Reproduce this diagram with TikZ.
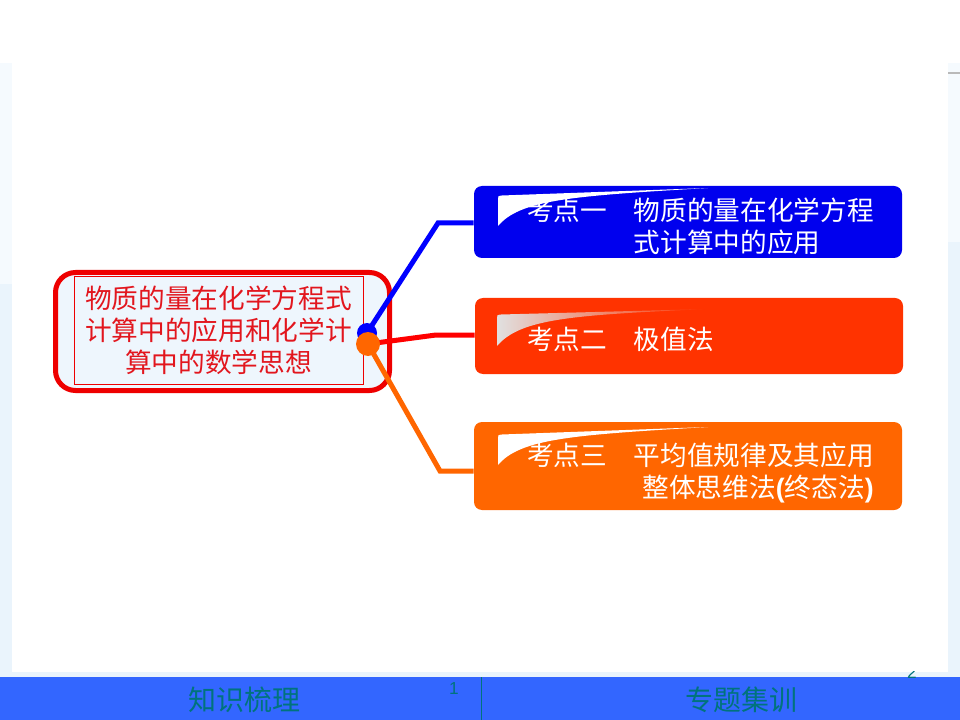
\documentclass[tikz,border=0pt]{standalone}
\usepackage{fontspec}
\setmainfont{Liberation Sans}
\newfontfamily\cjk{Noto Sans CJK SC}
\newfontfamily\latin{Liberation Sans}
\definecolor{mainred}{RGB}{238,0,0}
\definecolor{txtred}{RGB}{226,22,30}
\definecolor{paleblue}{RGB}{238,246,253}
\definecolor{stripblue}{RGB}{234,244,252}
\definecolor{faintblue}{RGB}{245,250,254}
\definecolor{boxblue}{RGB}{0,0,238}
\definecolor{boxred}{RGB}{255,51,0}
\definecolor{boxorange}{RGB}{255,102,0}
\definecolor{barblue}{RGB}{51,102,255}
\definecolor{footteal}{RGB}{0,115,125}
\definecolor{linered}{RGB}{255,0,0}
\definecolor{lineblue}{RGB}{0,0,255}
\tikzset{
  topicbox/.style={rounded corners=6pt, minimum width=321pt, inner sep=0pt},
  boxtext/.style={text=white, inner sep=0pt, font=\cjk\fontsize{20}{24}\selectfont},
  conn/.style={line width=3.75pt},
  foot/.style={text=footteal, inner sep=0pt, font=\cjk\fontsize{21}{24}\selectfont},
}
\begin{document}
\begin{tikzpicture}[x=0.75pt,y=-0.75pt]
\useasboundingbox (0,0) rectangle (960,720);
% background
\fill[white] (0,0) rectangle (960,720);
\fill[faintblue] (0,63) rectangle (960,677);
\fill[stripblue] (0,284) rectangle (12,677);
\fill[stripblue] (948,242) rectangle (960,677);
\fill[stripblue] (0,672) rectangle (960,677);
\fill[white] (12,63) rectangle (948,672);
\draw[gray!55, line width=1.5pt] (948,73) -- (960,73);
% footer
\fill[barblue] (0,677) rectangle (960,720);
\node[foot] (f1) at (244,700) {知识梳理};
\node[foot] (f2) at (741,700) {专题集训};
\coordinate (sepTop) at (481,677);
\coordinate (sepBot) at (481,720);
\draw[footteal, line width=0.75pt] (sepTop) -- (sepBot);
\node[text=footteal, inner sep=0pt, font=\latin\fontsize{13}{13}\selectfont] (p1) at (454,689) {1};
\begin{scope}
\clip (900,671) rectangle (925,679);
\node[anchor=base, text=footteal, inner sep=0pt, font=\latin\fontsize{13}{13}\selectfont] (p2) at (912,678.5) {2};
\end{scope}
% main topic
\node[draw=mainred, line width=3.75pt, rounded corners=15pt, fill=paleblue,
      minimum width=250.5pt, minimum height=88.5pt] (main) at (222.5,331.5) {};
\node[draw=mainred, line width=0.75pt, fill=paleblue, minimum width=216.75pt,
      minimum height=80.25pt, align=center, text=txtred, inner sep=0pt,
      font=\cjk\fontsize{20}{24}\selectfont] (inner) at (218.5,330.5)
      {物质的量在化学方程式\\计算中的应用和化学计\\算中的数学思想};
% topic boxes
\node[topicbox, fill=boxblue, minimum height=54pt] (b1) at (688,222) {};
\node[topicbox, fill=boxred, minimum height=57pt] (b2) at (689,336) {};
\node[topicbox, fill=boxorange, minimum height=66pt] (b3) at (688,466) {};
% gloss highlights
\fill[white] (498,226) -- (498,199) .. controls (498,196) .. (502,195.5) -- (708,188)
   .. controls (570,196) and (520,200) .. (498,226) -- cycle;
\begin{scope}[shift={(0,239)}]
\fill[white] (498,226) -- (498,199) .. controls (498,196) .. (502,195.5) -- (708,188)
   .. controls (570,196) and (520,200) .. (498,226) -- cycle;
\end{scope}
\begin{scope}[shift={(0,119)}]
\shade[left color=white!88!black, right color=boxred] (497,227) -- (497,199) .. controls (497,196) .. (501,195.5) -- (708,190)
   .. controls (570,196) and (520,200) .. (497,227) -- cycle;
\end{scope}
% box texts
\node[boxtext, anchor=west, align=left] (t1) at (527,226.5)
  {考点一　物质的量在化学方程\\\hspace*{4em}式计算中的应用};
\node[boxtext, anchor=west] (t2) at (527,339) {考点二　极值法};
\node[boxtext, anchor=east, align=right] (t3) at (874,472.5)
  {考点三　平均值规律及其应用\\整体思维法{\latin\bfseries(}终态法{\latin\bfseries)}};
% connectors
\coordinate (hb) at (367,333);
\coordinate (ho) at (368,344);
\coordinate (k1) at (438,223);
\coordinate (k2) at (436,335);
\coordinate (k3) at (440,471);
\draw[conn, lineblue] (hb) -- (k1) -- (k1 -| b1.west);
\draw[conn, linered] (ho) -- (k2) -- (k2 -| b2.west);
\draw[conn, boxorange] (ho) -- (k3) -- (k3 -| b3.west);
\node[circle, fill=lineblue, minimum size=15pt, inner sep=0pt] (bdot) at (hb) {};
\node[circle, fill=boxorange, minimum size=18pt, inner sep=0pt] (odot) at (ho) {};
\end{tikzpicture}
\end{document}
